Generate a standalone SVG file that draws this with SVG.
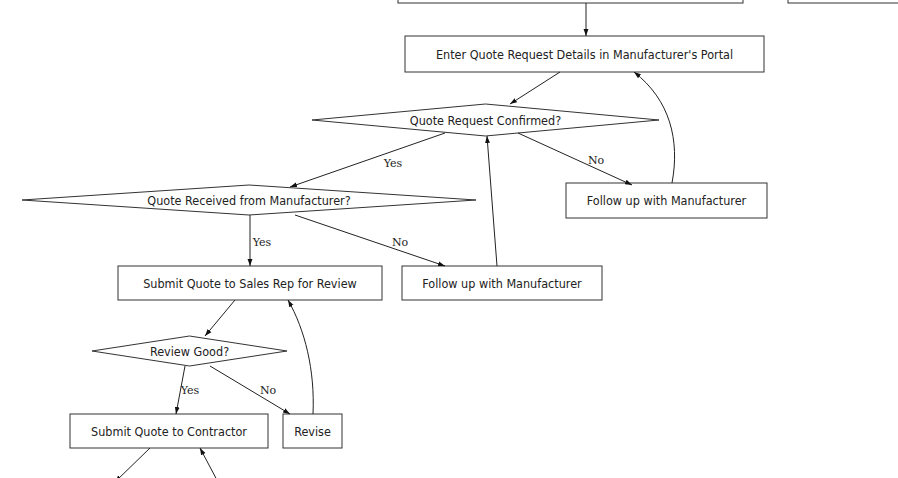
<svg xmlns="http://www.w3.org/2000/svg" width="898" height="478" viewBox="0 0 898 478">
<style>
.n{fill:#fff;stroke:#333;stroke-width:1}
.t{font-family:"DejaVu Sans Condensed","DejaVu Sans",sans-serif;font-size:12.5px;fill:#222;text-anchor:middle;dominant-baseline:central}
.l{font-family:"DejaVu Serif","Liberation Serif",serif;font-size:11px;fill:#222;text-anchor:middle;dominant-baseline:central}
.e{fill:none;stroke:#222;stroke-width:1;marker-end:url(#a)}
</style>
<defs><marker id="a" viewBox="0 0 10 10" refX="10" refY="5" markerWidth="7" markerHeight="7" orient="auto"><path d="M0,1.5L10,5L0,8.5z" fill="#111"/></marker></defs>
<rect width="898" height="478" fill="#fff"/>
<g id="top1"><rect class="n" x="398" y="-10" width="345" height="13"/></g>
<g id="top2"><rect class="n" x="788" y="-10" width="120" height="13"/></g>
<g id="enter"><rect class="n" x="405" y="36" width="359" height="36"/><text class="t" x="584.5" y="54">Enter Quote Request Details in Manufacturer's Portal</text></g>
<g id="confirmed"><polygon class="n" points="485.5,104 659,120 485.5,136 312,120"/><text class="t" x="485.5" y="120">Quote Request Confirmed?</text></g>
<g id="followRight"><rect class="n" x="566" y="183" width="201" height="35"/><text class="t" x="666.5" y="200.5">Follow up with Manufacturer</text></g>
<g id="received"><polygon class="n" points="249,185 476,200 249,215 22,200"/><text class="t" x="249" y="200">Quote Received from Manufacturer?</text></g>
<g id="salesRep"><rect class="n" x="118" y="266" width="264" height="34"/><text class="t" x="250" y="283">Submit Quote to Sales Rep for Review</text></g>
<g id="followMid"><rect class="n" x="402" y="266" width="200" height="34"/><text class="t" x="502" y="283">Follow up with Manufacturer</text></g>
<g id="review"><polygon class="n" points="189.5,336 287,351 189.5,366 92,351"/><text class="t" x="189.5" y="351">Review Good?</text></g>
<g id="contractor"><rect class="n" x="70" y="414" width="198" height="34"/><text class="t" x="169" y="431">Submit Quote to Contractor</text></g>
<g id="revise"><rect class="n" x="283" y="414" width="59" height="34"/><text class="t" x="312.5" y="431">Revise</text></g>
<g id="edges">
<path class="e" d="M586,3L586,36"/>
<path class="e" d="M560,72L510,104"/>
<path class="e" d="M672,183C680,140 670,100 634,72"/>
<path class="e" d="M445,133L290,187"/>
<text class="l" x="393" y="163">Yes</text>
<path class="e" d="M518,133L632,185"/>
<text class="l" x="596" y="160">No</text>
<path class="e" d="M250,215L250,266"/>
<text class="l" x="262" y="242">Yes</text>
<path class="e" d="M295,215L445,266"/>
<text class="l" x="400" y="242">No</text>
<path class="e" d="M497,266L487,136"/>
<path class="e" d="M235,300L205,336"/>
<path class="e" d="M313,414C315,370 305,330 288,300"/>
<path class="e" d="M185,366L176,414"/>
<text class="l" x="190" y="390">Yes</text>
<path class="e" d="M210,366L290,414"/>
<text class="l" x="268" y="390">No</text>
<path class="e" d="M150,448L115,482"/>
<path class="e" d="M218,482L200,448"/>
</g>
</svg>
